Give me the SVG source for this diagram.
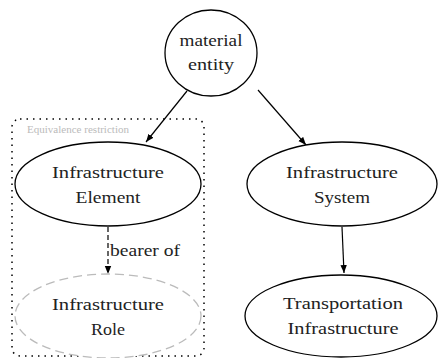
<svg xmlns="http://www.w3.org/2000/svg" width="438" height="358" viewBox="0 0 438 358">
<style>
.n{fill:#fff;stroke:#000;stroke-width:1.3}
.t{font-family:"Liberation Serif",serif;font-size:17px;fill:#222;text-anchor:middle}
.s{font-family:"Liberation Serif",serif;font-size:10px;fill:#bbb}
.e{stroke:#000;stroke-width:1.2;fill:none}
</style>
<defs>
<marker id="ah" viewBox="0 0 10 10" refX="10" refY="5" markerWidth="8" markerHeight="8" markerUnits="userSpaceOnUse" orient="auto"><path d="M0,1 L10,5 L0,9 Z" fill="#000"/></marker>
</defs>
<rect width="438" height="358" fill="#fff"/>
<g id="cluster">
<rect x="12" y="119" width="192" height="237" rx="8" fill="none" stroke="#000" stroke-width="1.5" stroke-dasharray="1.5,5"/>
<text class="s" x="27" y="133" textLength="102" lengthAdjust="spacingAndGlyphs">Equivalence restriction</text>
</g>
<g id="edges">
<line class="e" x1="187" y1="91" x2="146" y2="142" marker-end="url(#ah)"/>
<line class="e" x1="258" y1="90" x2="306" y2="145" marker-end="url(#ah)"/>
<line class="e" x1="342" y1="227" x2="344" y2="273" marker-end="url(#ah)"/>
<line class="e" x1="108" y1="227" x2="108" y2="274" stroke-dasharray="5,3" marker-end="url(#ah)"/>
<text class="t" x="110" y="256" style="text-anchor:start" textLength="70" lengthAdjust="spacingAndGlyphs">bearer of</text>
</g>
<g id="material-entity">
<ellipse class="n" cx="211" cy="53" rx="46" ry="43"/>
<text class="t" x="211" y="46" textLength="63" lengthAdjust="spacingAndGlyphs">material</text>
<text class="t" x="211" y="70" textLength="46" lengthAdjust="spacingAndGlyphs">entity</text>
</g>
<g id="infrastructure-element">
<ellipse class="n" cx="108" cy="184" rx="93" ry="42"/>
<text class="t" x="108" y="178" textLength="112" lengthAdjust="spacingAndGlyphs">Infrastructure</text>
<text class="t" x="108" y="203" textLength="65" lengthAdjust="spacingAndGlyphs">Element</text>
</g>
<g id="infrastructure-role">
<ellipse cx="108" cy="316" rx="93" ry="42" fill="#fff" stroke="#bbb" stroke-width="1.3" stroke-dasharray="9,5"/>
<text class="t" x="108" y="310" textLength="112" lengthAdjust="spacingAndGlyphs">Infrastructure</text>
<text class="t" x="108" y="335" textLength="34" lengthAdjust="spacingAndGlyphs">Role</text>
</g>
<g id="infrastructure-system">
<ellipse class="n" cx="342" cy="184" rx="95" ry="42"/>
<text class="t" x="342" y="178" textLength="112" lengthAdjust="spacingAndGlyphs">Infrastructure</text>
<text class="t" x="342" y="203" textLength="56" lengthAdjust="spacingAndGlyphs">System</text>
</g>
<g id="transportation-infrastructure">
<ellipse class="n" cx="341" cy="316" rx="96" ry="41"/>
<text class="t" x="343" y="309" textLength="120" lengthAdjust="spacingAndGlyphs">Transportation</text>
<text class="t" x="343" y="334" textLength="111" lengthAdjust="spacingAndGlyphs">Infrastructure</text>
</g>
</svg>
